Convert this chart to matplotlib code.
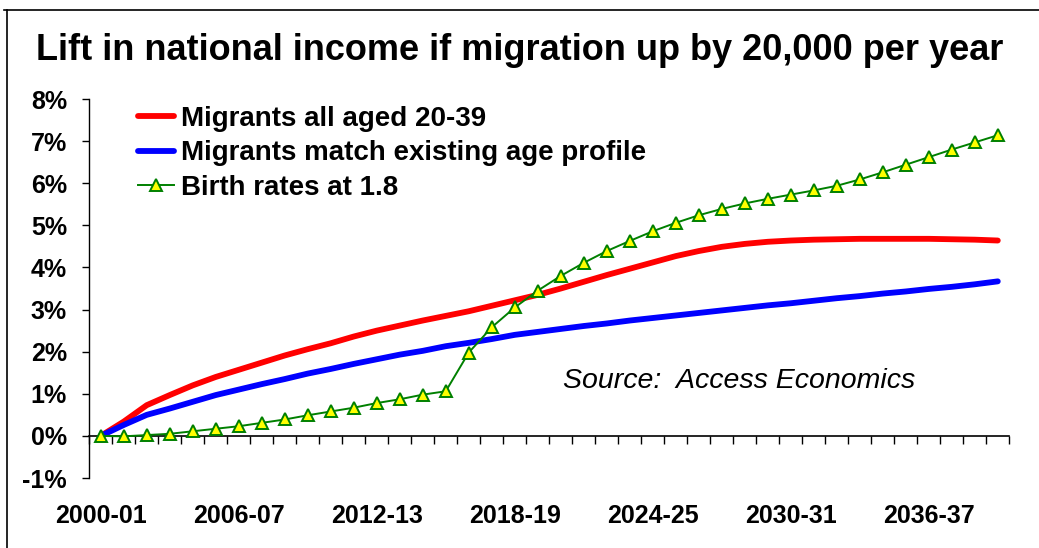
"""
Lift in national income if migration up by 20,000 per year (Access Economics).
Three scenarios, annual values 2000-01 .. 2039-40. Output: out.png
"""
import numpy as np
import matplotlib
matplotlib.use("Agg")
import matplotlib.pyplot as plt
from matplotlib.lines import Line2D

plt.rcParams.update({
    "font.family": ["Liberation Sans", "DejaVu Sans"],
    "figure.facecolor": "white",
    "axes.facecolor": "white",
})

years = [f"{y}-{(y + 1) % 100:02d}" for y in range(2000, 2040)]

# % lift in national income
aged_20_39 = [0.00, 0.34, 0.73, 0.97, 1.20, 1.40, 1.57, 1.74, 1.91, 2.06,
              2.20, 2.36, 2.50, 2.62, 2.74, 2.85, 2.96, 3.09, 3.22, 3.35,
              3.50, 3.66, 3.82, 3.97, 4.12, 4.27, 4.39, 4.49, 4.56, 4.61,
              4.64, 4.66, 4.67, 4.68, 4.68, 4.68, 4.68, 4.67, 4.66, 4.64]
age_profile = [0.00, 0.26, 0.50, 0.65, 0.81, 0.97, 1.10, 1.23, 1.35, 1.48,
               1.59, 1.71, 1.82, 1.93, 2.02, 2.13, 2.21, 2.30, 2.40, 2.47,
               2.54, 2.61, 2.67, 2.74, 2.80, 2.86, 2.92, 2.98, 3.04, 3.10,
               3.15, 3.21, 3.27, 3.32, 3.38, 3.43, 3.49, 3.54, 3.60, 3.67]
birth_1_8 = [0.00, -0.01, 0.02, 0.05, 0.11, 0.17, 0.23, 0.31, 0.39, 0.49,
             0.58, 0.67, 0.78, 0.87, 0.98, 1.06, 1.98, 2.58, 3.05, 3.45,
             3.80, 4.11, 4.39, 4.63, 4.86, 5.06, 5.24, 5.39, 5.52, 5.63,
             5.73, 5.83, 5.94, 6.09, 6.26, 6.44, 6.62, 6.80, 6.97, 7.14]

yticks = list(range(-1, 9))
label_every = 6

fig = plt.figure(figsize=(10.39, 5.48), dpi=100)
ax = fig.add_axes([0.0859, 0.1277, 0.8855, 0.6916])

x = np.arange(len(years))
ax.plot(x, aged_20_39, color="#ff0000", lw=4.2, solid_capstyle="round", zorder=3)
ax.plot(x, age_profile, color="#0000ff", lw=4.2, solid_capstyle="round", zorder=3)
ax.plot(x, birth_1_8, color="#008000", lw=1.4, marker="^", ms=8.5,
        mfc="#ffff00", mec="#008000", mew=1.4, zorder=4)

ax.set_xlim(-0.5, len(years) - 0.5)
ax.set_ylim(-1, 8)

# y axis
ax.set_yticks(yticks)
ax.set_yticklabels([f"{v}%" for v in yticks], fontsize=18, fontweight="bold")
ax.tick_params(axis="y", direction="out", length=5, width=1, pad=11)
for s in ("top", "right", "bottom"):
    ax.spines[s].set_visible(False)
ax.spines["left"].set_linewidth(1)

# category labels at the bottom
ax.set_xticks(x[::label_every])
ax.set_xticklabels(years[::label_every], fontsize=18, fontweight="bold")
ax.tick_params(axis="x", length=0, pad=19)

# category axis crossing at 0 with boundary ticks
zero_ax = ax.secondary_xaxis(1 / 9)
zero_ax.set_xticks(np.arange(len(years) + 1) - 0.5)
zero_ax.set_xticklabels([])
zero_ax.tick_params(direction="out", length=6, width=1)
zero_ax.spines["bottom"].set_linewidth(1.2)

fig.text(0.5, 0.908, "Lift in national income if migration up by 20,000 per year",
         ha="center", va="center", fontsize=26, fontweight="bold")

ax.text(0.515, 0.256, "Source:  Access Economics", transform=ax.transAxes,
        fontsize=20.5, style="italic", ha="left", va="center")

handles = [
    Line2D([], [], color="#ff0000", lw=4.2, solid_capstyle="round"),
    Line2D([], [], color="#0000ff", lw=4.2, solid_capstyle="round"),
    Line2D([], [], color="#008000", lw=1.4, marker="^", ms=8.5,
           mfc="#ffff00", mec="#008000", mew=1.4),
]
labels = ["Migrants all aged 20-39", "Migrants match existing age profile",
          "Birth rates at 1.8"]
ax.legend(handles, labels, loc="upper left", bbox_to_anchor=(0.026, 1.048),
          frameon=False, prop={"size": 20, "weight": "bold"},
          handlelength=1.3, handletextpad=0.25, labelspacing=0.31)

# outer frame lines (top and left only)
fig.add_artist(Line2D([0.004, 1.0], [0.981, 0.981], transform=fig.transFigure,
                      color="black", lw=1.2))
fig.add_artist(Line2D([0.0065, 0.0065], [0.0, 0.981], transform=fig.transFigure,
                      color="black", lw=1.2))

fig.savefig("out.png", dpi=100)
plt.close(fig)
